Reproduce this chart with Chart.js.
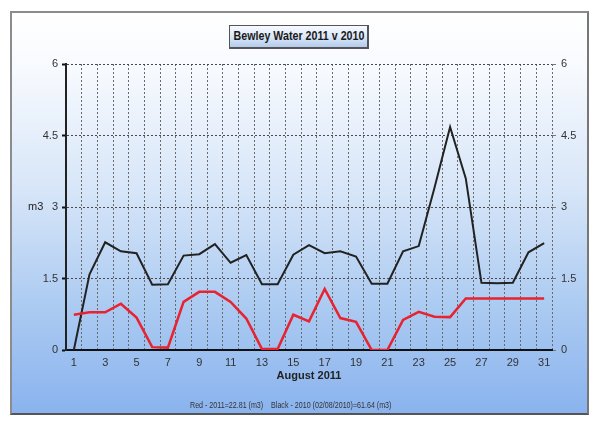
<!DOCTYPE html>
<html>
<head>
<meta charset="utf-8">
<script src="https://cdn.jsdelivr.net/npm/chart.js@4/dist/chart.umd.min.js"></script>
<style>
  html, body { margin: 0; padding: 0; background: #fff; }
  body { width: 600px; height: 426px; position: relative; overflow: hidden; font-family: "Liberation Sans", Arial, sans-serif; }
  #painel {
    position: absolute; left: 10px; top: 11px; width: 575px; height: 400px;
    border: 2px solid #8c8c8c; border-bottom-color: #555; border-right-color: #777;
    background: linear-gradient(to bottom, #ffffff 0%, #f7fafe 14%, #d6e5f8 45%, #a9c9f1 75%, #8ab3ee 100%);
  }
  #grafico { position: absolute; left: 0; top: 0; }
  #titulo {
    position: absolute; left: 229px; top: 25px; width: 137px; height: 21px;
    border: 1px solid #555; border-right-width: 2px; border-bottom-width: 2px;
    background: linear-gradient(to bottom, #f7faff 0%, #dce8f8 50%, #b3cbed 100%);
    font-weight: bold; font-size: 12px; color: #1a1a1a; line-height: 21px;
    white-space: nowrap;
  }
  #titulo span {
    position: absolute; left: 50%; top: 0;
    transform: translateX(-50%) scaleX(0.89);
  }
  #unidade { position: absolute; left: 28px; top: 200px; font-size: 11px; color: #222; }
  #rodape {
    position: absolute; left: 190px; top: 400px; font-size: 9px; color: #333; white-space: pre;
    transform: scaleX(0.79); transform-origin: left center;
  }
</style>
</head>
<body>
<div id="painel"></div>
<canvas id="grafico" width="600" height="426"></canvas>
<div id="titulo"><span>Bewley Water 2011 v 2010</span></div>
<div id="unidade">m3</div>
<div id="rodape">Red - 2011=22.81 (m3)    Black - 2010 (02/08/2010)=61.64 (m3)</div>
<script>
// dias de agosto
const dias = [1, 2, 3, 4, 5, 6, 7, 8, 9, 10, 11, 12, 13, 14, 15, 16, 17, 18, 19, 20, 21, 22, 23, 24, 25, 26, 27, 28, 29, 30, 31];

// consumo diario (m3)
const vermelho2011 = [0.74, 0.79, 0.79, 0.97, 0.68, 0.06, 0.05, 1.01, 1.22, 1.22, 1.01, 0.66, 0.02, 0.02, 0.74, 0.6, 1.28, 0.67, 0.59, 0, 0, 0.63, 0.8, 0.7, 0.69, 1.08, 1.08, 1.08, 1.08, 1.08, 1.08];
const preto2010 = [0, 1.59, 2.26, 2.07, 2.03, 1.37, 1.38, 1.98, 2.01, 2.22, 1.83, 1.99, 1.38, 1.38, 2.0, 2.2, 2.03, 2.07, 1.96, 1.39, 1.39, 2.07, 2.18, 3.4, 4.68, 3.6, 1.41, 1.4, 1.41, 2.05, 2.24];

const tituloX = "August 2011";
const fonte = "'Liberation Sans', Arial, sans-serif";

const grafico = document.getElementById("grafico");

const chart = new Chart(grafico, {
  type: "line",
  data: {
    labels: dias,
    datasets: [
      {
        label: "2011",
        data: vermelho2011,
        borderColor: "#e8222e",
        borderWidth: 2.5,
        pointRadius: 0,
        tension: 0,
        yAxisID: "y",
      },
      {
        label: "2010",
        data: preto2010,
        borderColor: "#222222",
        borderWidth: 2,
        pointRadius: 0,
        tension: 0,
        yAxisID: "y",
      },
    ],
  },
  options: {
    responsive: false,
    animation: false,
    layout: { padding: { top: 64, left: 0, right: 0, bottom: 40 } },
    plugins: { legend: { display: false }, tooltip: { enabled: false } },
    scales: {
      x: {
        offset: true,
        grid: { offset: true, color: "#6a6a6a", lineWidth: 1, drawTicks: false },
        border: { display: true, color: "#111", width: 2, dash: [2, 2] },
        ticks: {
          autoSkip: false,
          maxRotation: 0,
          padding: 6,
          color: "#333",
          font: { family: fonte, size: 11 },
          callback: (valor, i) => (i % 2 === 0 ? dias[i] : ""),
        },
        title: {
          display: true,
          text: tituloX,
          color: "#222",
          padding: { top: 0, bottom: 3 },
          font: { family: fonte, size: 11, weight: "bold" },
        },
        afterFit: (escala) => { escala.height = 36; },
      },
      y: {
        position: "left",
        min: 0,
        max: 6,
        ticks: { stepSize: 1.5, padding: 4, color: "#333", font: { family: fonte, size: 11 } },
        grid: { color: "#4a4a4a", lineWidth: 1, tickLength: 4, tickColor: "#111", tickWidth: 2 },
        border: { display: true, color: "#222", width: 2, dash: [2, 2] },
        afterFit: (escala) => { escala.width = 66; },
      },
      y1: {
        position: "right",
        min: 0,
        max: 6,
        ticks: { stepSize: 1.5, padding: 5, color: "#333", font: { family: fonte, size: 11 } },
        grid: { drawOnChartArea: false, tickLength: 4, tickColor: "#777" },
        border: { display: false },
        afterFit: (escala) => { escala.width = 48; },
      },
    },
  },
});
</script>
</body>
</html>
